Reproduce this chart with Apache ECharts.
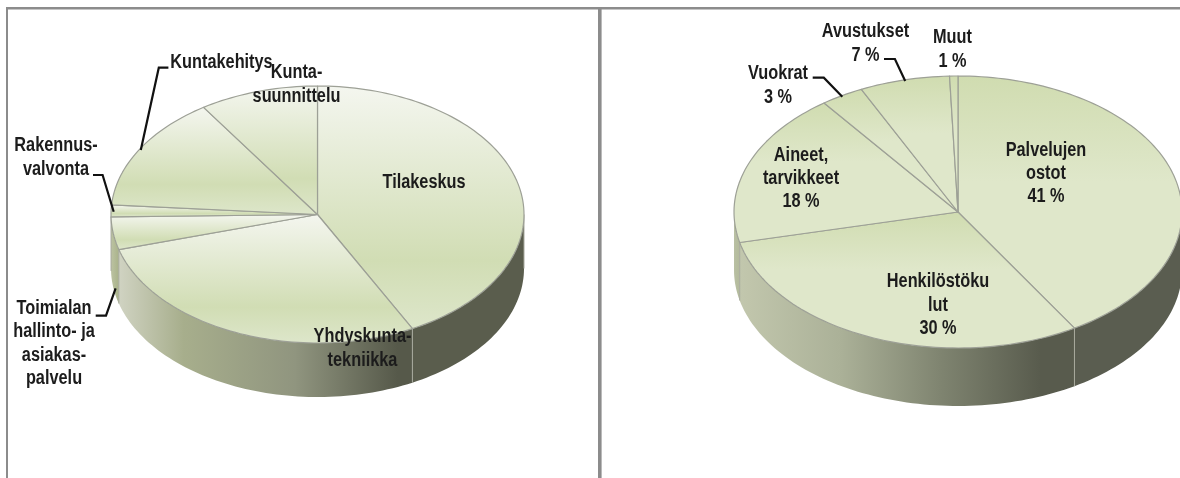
<!DOCTYPE html>
<html><head><meta charset="utf-8">
<style>html,body{margin:0;padding:0;background:#fff}#c{width:1180px;height:478px}</style>
<script src="https://cdn.jsdelivr.net/npm/echarts@6/dist/echarts.min.js"></script>
</head><body><div id="c"></div>
<script>
// --- data (percent shares, clockwise from 12 o'clock) ---
const leftCategories = ['Tilakeskus','Yhdyskuntatekniikka','Toimialan hallinto- ja asiakaspalvelu','Rakennusvalvonta','Kuntakehitys','Kuntasuunnittelu'];
const leftValues = [42.4,28.2,4.1,1.5,14.5,9.3];
const leftLabels = ['Tilakeskus','Yhdyskunta-\ntekniikka','Toimialan\nhallinto- ja\nasiakas-\npalvelu','Rakennus-\nvalvonta','Kuntakehitys','Kunta-\nsuunnittelu'];
const rightCategories = ['Palvelujen ostot','Henkilöstökulut','Aineet, tarvikkeet','Vuokrat','Avustukset','Muut'];
const rightValues = [41.3,30.1,18.4,3.1,6.5,0.6];
const rightLabels = ['Palvelujen\nostot\n41 %','Henkilöstöku\nlut\n30 %','Aineet,\ntarvikkeet\n18 %','Vuokrat\n3 %','Avustukset\n7 %','Muut\n1 %'];

// --- layout & style (separate from the data) ---
const leftGeo  = {cx:317.5, cy:214.5, rx:206.5, ry:128.5, depth:54};
const rightGeo = {cx:958,   cy:212,   rx:224,   ry:136,   depth:58};
const leftLabelPos  = [[424,182],[362.5,348.5],[54,343.5],[56,157.5],[221.5,62],[296.5,84.5]];
const rightLabelPos = [[1046,173.5],[938,305],[801,178.5],[778,85.5],[865.5,43.5],[952.5,49.5]];
const lh = 23.4;
const leftLeaders = [
  [[168.4,67.7],[158.8,67.7],[140.8,150]],
  [[93,175],[102.6,175],[113.7,211.7]],
  [[95.7,315.7],[106,315.7],[115.6,288.3]]
];
const rightLeaders = [
  [[812.7,77.7],[823.8,77.7],[842.3,96.7]],
  [[884,59],[894.9,59],[905.2,81]]
];
const edge = '#9da096';
const LG = echarts.graphic.LinearGradient;

function pt(g,deg,dz){const t=deg*Math.PI/180;return [g.cx+g.rx*Math.sin(t), g.cy-g.ry*Math.cos(t)+(dz||0)];}
function arc(g,a,b,dz){const n=Math.max(2,Math.ceil(Math.abs(b-a)/1.5));const p=[];for(let i=0;i<=n;i++)p.push(pt(g,a+(b-a)*i/n,dz));return p;}
function bounds(values){let s=0;const tot=values.reduce((x,y)=>x+y,0);return values.map(v=>{const a=s;s+=v;return [a/tot*360,s/tot*360];});}

function wallSeries(values,g,wallFill){
  const bs=bounds(values);
  return {type:'custom',coordinateSystem:'none',silent:true,z:2,clip:false,data:values.map(v=>[v]),
    renderItem:(params,api)=>{
      api.value(0);
      const [a0,b0]=bs[params.dataIndex];
      const a=Math.max(a0,90),b=Math.min(b0,270);
      if(b<=a) return {type:'group',children:[]};
      const top=arc(g,a,b,0),bot=arc(g,a,b,g.depth).reverse();
      const xs=top.map(p=>p[0]);
      const f=wallFill(params.dataIndex,Math.min(...xs),Math.max(...xs));
      return {type:'group',children:[
        {type:'polygon',shape:{points:top.concat(bot)},style:{fill:f,stroke:null}},
        {type:'line',shape:{x1:top[0][0],y1:top[0][1],x2:top[0][0],y2:top[0][1]+g.depth},style:{stroke:'#a8aa9e',lineWidth:1}}
      ]};
    }};
}
function faceSeries(values,g,faceFill){
  const bs=bounds(values);
  return {type:'custom',coordinateSystem:'none',silent:true,z:3,clip:false,data:values.map(v=>[v]),
    renderItem:(params,api)=>{
      api.value(0);
      const [a,b]=bs[params.dataIndex];
      const pts=[[g.cx,g.cy]].concat(arc(g,a,b,0));
      const ys=pts.map(p=>p[1]);
      return {type:'polygon',shape:{points:pts},style:{fill:faceFill(Math.min(...ys),Math.max(...ys)),stroke:edge,lineWidth:1.2,lineJoin:'round'}};
    }};
}
function labelSeries(labels,pos){
  return {type:'custom',coordinateSystem:'none',silent:true,z:5,clip:false,data:labels.map((l,i)=>[i]),
    renderItem:(params)=>({type:'text',x:pos[params.dataIndex][0],y:pos[params.dataIndex][1],scaleX:0.815,
      style:{text:labels[params.dataIndex],font:'bold 20px "Liberation Sans"',lineHeight:lh,fill:'#1c1c1c',align:'center',verticalAlign:'middle'}})};
}
function leaderSeries(lines){
  return {type:'custom',coordinateSystem:'none',silent:true,z:4,clip:false,data:lines.map((l,i)=>[i]),
    renderItem:(params)=>({type:'polyline',shape:{points:lines[params.dataIndex]},style:{stroke:'#111',lineWidth:2.2,fill:null}})};
}
// left pie: each slice light at its top, deepest green low down
const leftFace=(y0,y1)=>new LG(0,y0,0,y1,[{offset:0,color:'#f4f6ef'},{offset:0.72,color:'#d1ddb4'},{offset:1,color:'#dde6ca'}],true);
const rightFace=(y0,y1)=>new LG(0,y0,0,y1,[{offset:0,color:'#d0dcb0'},{offset:0.42,color:'#dfe7ca'},{offset:1,color:'#dfe7ca'}],true);
function leftWall(i,x0,x1){
  if(i===0) return '#5a5d4d';
  if(i===1) return new LG(x0,0,x1,0,[{offset:0,color:'#d0d3c2'},{offset:0.22,color:'#a7ae8c'},{offset:0.6,color:'#90957f'},{offset:0.95,color:'#56594a'},{offset:1,color:'#56594a'}],true);
  return new LG(x0,0,x1,0,[{offset:0,color:'#bcc3a2'},{offset:1,color:'#a9b28a'}],true);
}
function rightWall(i,x0,x1){
  if(i===0) return '#5a5d50';
  if(i===1) return new LG(x0,0,x1,0,[{offset:0,color:'#c2c7ad'},{offset:0.3,color:'#abb198'},{offset:0.6,color:'#7f8470'},{offset:0.9,color:'#585b4d'},{offset:1,color:'#585b4d'}],true);
  return new LG(x0,0,x1,0,[{offset:0,color:'#b9c0a3'},{offset:1,color:'#b3ba9c'}],true);
}

const chart=echarts.init(document.getElementById('c'),null,{renderer:'canvas'});
chart.setOption({
  animation:false,backgroundColor:'#fff',
  graphic:[
    {type:'rect',shape:{x:6,y:7,width:1174,height:2.6},style:{fill:'#8c8c8c'},silent:true},
    {type:'rect',shape:{x:6,y:7,width:2,height:471},style:{fill:'#8c8c8c'},silent:true},
    {type:'rect',shape:{x:598,y:7,width:3.6,height:471},style:{fill:'#8c8c8c'},silent:true}
  ],
  series:[
    wallSeries(leftValues,leftGeo,leftWall),faceSeries(leftValues,leftGeo,leftFace),leaderSeries(leftLeaders),labelSeries(leftLabels,leftLabelPos),
    wallSeries(rightValues,rightGeo,rightWall),faceSeries(rightValues,rightGeo,rightFace),leaderSeries(rightLeaders),labelSeries(rightLabels,rightLabelPos)
  ]
});
</script></body></html>
